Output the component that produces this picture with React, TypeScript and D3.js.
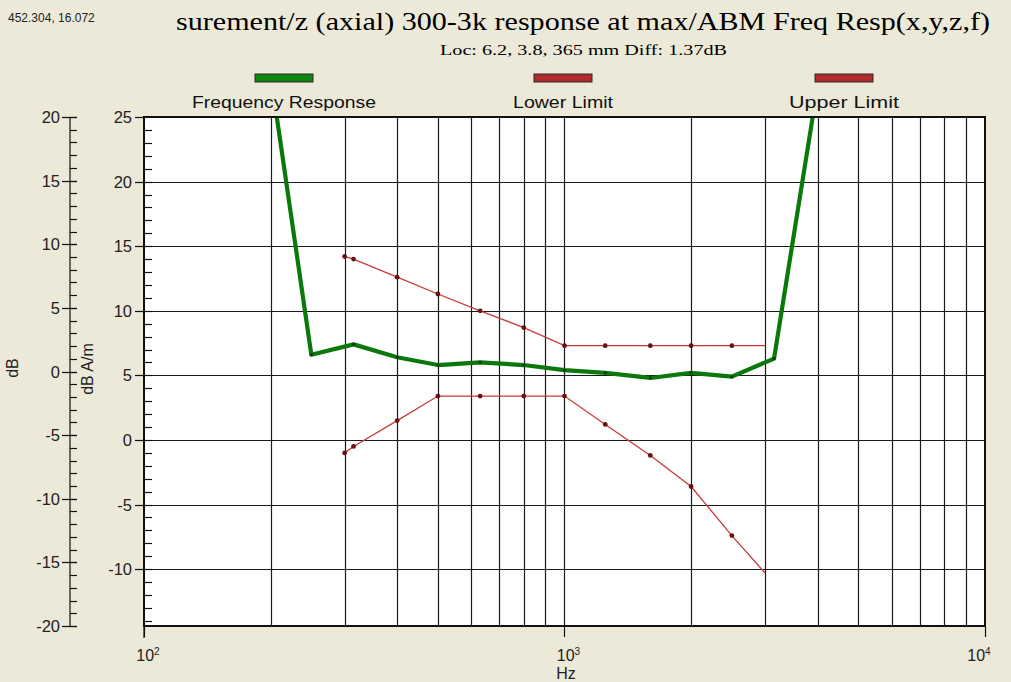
import * as d3 from "d3";
import { useEffect, useRef } from "react";

// third-octave points of the measured response (dB A/m, inner axis)
const freqHz = [200, 250, 315, 400, 500, 630, 800, 1000, 1250, 1600, 2000, 2500, 3150, 4000];
const responseDb = [28.3, 6.6, 7.4, 6.4, 5.8, 6.0, 5.8, 5.4, 5.2, 4.8, 5.2, 4.9, 6.3, 27.4];

// limit mask points
const limitHz = [300, 315, 400, 500, 630, 800, 1000, 1250, 1600, 2000, 2500, 3000];
const upperDb = [14.2, 14.0, 12.6, 11.3, 10.0, 8.7, 7.3, 7.3, 7.3, 7.3, 7.3, 7.3];
const lowerDb = [-1.0, -0.5, 1.5, 3.4, 3.4, 3.4, 3.4, 1.2, -1.2, -3.6, -7.4, -10.3];

const legendNames = ["Frequency Response", "Lower Limit", "Upper Limit"];
const decadeTicks = [100, 1000, 10000];
const innerTicks = [25, 20, 15, 10, 5, 0, -5, -10];
const outerTicks = [20, 15, 10, 5, 0, -5, -10, -15, -20];

const titleText = "surement/z (axial) 300-3k response at max/ABM Freq Resp(x,y,z,f)";
const subTitle = "Loc: 6.2, 3.8, 365 mm Diff: 1.37dB";
const cursorText = "452.304, 16.072";

interface Pt {
  f: number;
  v: number;
}

const App = () => {
  const svgRef = useRef<SVGSVGElement | null>(null);

  useEffect(() => {
    document.body.style.margin = "0";
    const width = 1011;
    const height = 682;
    const left = 144, right = 985, top = 117, bottom = 626;
    const sans = "Arial, 'Liberation Sans', sans-serif";
    const serif = "'Times New Roman', 'Liberation Serif', serif";

    const svg = d3.select(svgRef.current).attr("width", width).attr("height", height);
    svg.selectAll("*").remove();

    svg.append("rect").attr("width", width).attr("height", height).attr("fill", "#ECE9D8");

    const x = d3.scaleLog().domain([100, 10000]).range([left, right]);
    const y = d3.scaleLinear().domain([-14.4, 25]).range([bottom, top]);
    const yOuter = d3.scaleLinear().domain([-20, 20]).range([bottom, top]);

    // header texts
    svg.append("text").attr("x", 8).attr("y", 22).attr("font-family", sans)
      .attr("font-size", 12).attr("fill", "#222").text(cursorText);
    svg.append("text").attr("x", 176).attr("y", 30).attr("font-family", serif)
      .attr("font-size", 26).attr("fill", "#000")
      .attr("textLength", 814).attr("lengthAdjust", "spacingAndGlyphs").text(titleText);
    svg.append("text").attr("x", 440).attr("y", 55).attr("font-family", serif)
      .attr("font-size", 14).attr("fill", "#000")
      .attr("textLength", 287).attr("lengthAdjust", "spacingAndGlyphs").text(subTitle);

    // legend
    const legendCx = [284, 563, 844];
    const legendFill = ["#0f870f", "#b02a2a", "#b02a2a"];
    const legendWidth = [184, 100, 110];
    legendNames.forEach((name, i) => {
      svg.append("rect").attr("x", legendCx[i] - 29).attr("y", 74).attr("width", 58).attr("height", 8)
        .attr("fill", legendFill[i]).attr("stroke", "#2a2a2a").attr("stroke-width", 1);
      svg.append("text").attr("x", legendCx[i] - legendWidth[i] / 2).attr("y", 108)
        .attr("font-family", sans).attr("font-size", 16.5).attr("fill", "#111")
        .attr("textLength", legendWidth[i]).attr("lengthAdjust", "spacingAndGlyphs").text(name);
    });

    // plot area
    svg.append("rect").attr("x", left).attr("y", top).attr("width", right - left)
      .attr("height", bottom - top).attr("fill", "#fff");

    svg.append("defs").append("clipPath").attr("id", "plotClip")
      .append("rect").attr("x", left).attr("y", top).attr("width", right - left).attr("height", bottom - top);

    const grid = svg.append("g").attr("stroke", "#1a1a1a").attr("stroke-width", 1.2);
    const vTicks = x.ticks().filter((t) => t > 100 && t < 10000);
    grid.selectAll(".vg").data(vTicks).enter().append("line")
      .attr("x1", (d) => Math.round(x(d)) + 0.5).attr("x2", (d) => Math.round(x(d)) + 0.5)
      .attr("y1", top).attr("y2", bottom);
    grid.selectAll(".hg").data(innerTicks.filter((t) => t < 25)).enter().append("line")
      .attr("x1", left).attr("x2", right)
      .attr("y1", (d) => Math.round(y(d)) + 0.5).attr("y2", (d) => Math.round(y(d)) + 0.5);

    const line = d3.line<Pt>().x((d) => x(d.f)).y((d) => y(d.v));
    const plotG = svg.append("g").attr("clip-path", "url(#plotClip)");

    const upper: Pt[] = limitHz.map((f, i) => ({ f, v: upperDb[i] }));
    const lower: Pt[] = limitHz.map((f, i) => ({ f, v: lowerDb[i] }));
    [upper, lower].forEach((s) => {
      plotG.append("path").datum(s).attr("fill", "none").attr("stroke", "#c83a3a")
        .attr("stroke-width", 1.3).attr("d", line);
      plotG.selectAll(null).data(s.slice(0, -1)).enter().append("circle")
        .attr("cx", (d) => x(d.f)).attr("cy", (d) => y(d.v)).attr("r", 2.4).attr("fill", "#6a1010");
    });

    const resp: Pt[] = freqHz.map((f, i) => ({ f, v: responseDb[i] }));
    plotG.append("path").datum(resp).attr("fill", "none").attr("stroke", "#0b780b")
      .attr("stroke-width", 4.2).attr("stroke-linejoin", "round").attr("d", line);
    plotG.selectAll(null).data(resp).enter().append("circle")
      .attr("cx", (d) => x(d.f)).attr("cy", (d) => y(d.v)).attr("r", 1.6).attr("fill", "#0a3a0a");

    // frame
    svg.append("rect").attr("x", left).attr("y", top).attr("width", right - left)
      .attr("height", bottom - top).attr("fill", "none").attr("stroke", "#111").attr("stroke-width", 2);

    // inner (dB A/m) axis
    const inner = svg.append("g").attr("stroke", "#111").attr("stroke-width", 1.2);
    inner.append("line").attr("x1", left).attr("x2", left).attr("y1", top).attr("y2", bottom + 12);
    inner.selectAll(".mi").data(d3.range(-14, 25, 1)).enter().append("line")
      .attr("x1", left).attr("x2", left + 8)
      .attr("y1", (d) => Math.round(y(d)) + 0.5).attr("y2", (d) => Math.round(y(d)) + 0.5);
    inner.selectAll(".ma").data(innerTicks).enter().append("line")
      .attr("x1", left - 9).attr("x2", left)
      .attr("y1", (d) => Math.round(y(d)) + 0.5).attr("y2", (d) => Math.round(y(d)) + 0.5);
    svg.append("g").selectAll("text").data(innerTicks).enter().append("text")
      .attr("x", left - 12).attr("y", (d) => y(d) + 6).attr("text-anchor", "end")
      .attr("font-family", sans).attr("font-size", 16.5).attr("fill", "#222").text((d) => d);

    // outer (dB) axis
    const ox = 70;
    const outer = svg.append("g").attr("stroke", "#111").attr("stroke-width", 1.2);
    outer.append("line").attr("x1", ox).attr("x2", ox).attr("y1", top).attr("y2", bottom);
    outer.selectAll(".mi").data(d3.range(-20, 21, 1)).enter().append("line")
      .attr("x1", ox).attr("x2", ox + 7)
      .attr("y1", (d) => Math.round(yOuter(d)) + 0.5).attr("y2", (d) => Math.round(yOuter(d)) + 0.5);
    outer.selectAll(".ma").data(outerTicks).enter().append("line")
      .attr("x1", ox - 8).attr("x2", ox + 7)
      .attr("y1", (d) => Math.round(yOuter(d)) + 0.5).attr("y2", (d) => Math.round(yOuter(d)) + 0.5);
    svg.append("g").selectAll("text").data(outerTicks).enter().append("text")
      .attr("x", ox - 10).attr("y", (d) => yOuter(d) + 6).attr("text-anchor", "end")
      .attr("font-family", sans).attr("font-size", 16.5).attr("fill", "#222").text((d) => d);

    svg.append("text").attr("transform", "translate(18,368) rotate(-90)").attr("text-anchor", "middle")
      .attr("font-family", sans).attr("font-size", 16).attr("fill", "#222").text("dB");
    svg.append("text").attr("transform", "translate(93,369) rotate(-90)").attr("text-anchor", "middle")
      .attr("font-family", sans).attr("font-size", 16).attr("fill", "#222").text("dB A/m");

    // x axis
    const xa = svg.append("g");
    xa.selectAll("line").data(decadeTicks).enter().append("line")
      .attr("x1", (d) => Math.round(x(d)) + 0.5).attr("x2", (d) => Math.round(x(d)) + 0.5)
      .attr("y1", bottom).attr("y2", bottom + 11).attr("stroke", "#111").attr("stroke-width", 1.2);
    const xl = xa.selectAll("text").data(decadeTicks).enter().append("text")
      .attr("x", (d) => x(d) + (d === 10000 ? -6 : 4)).attr("y", 661).attr("text-anchor", "middle")
      .attr("font-family", sans).attr("font-size", 16).attr("fill", "#222");
    xl.append("tspan").text("10");
    xl.append("tspan").attr("dy", -6).attr("font-size", 10).text((d) => String(Math.round(Math.log10(d))));
    svg.append("text").attr("x", 566).attr("y", 679).attr("text-anchor", "middle")
      .attr("font-family", sans).attr("font-size", 16).attr("fill", "#222").text("Hz");
  }, []);

  return <svg ref={svgRef}></svg>;
};

export default App;
